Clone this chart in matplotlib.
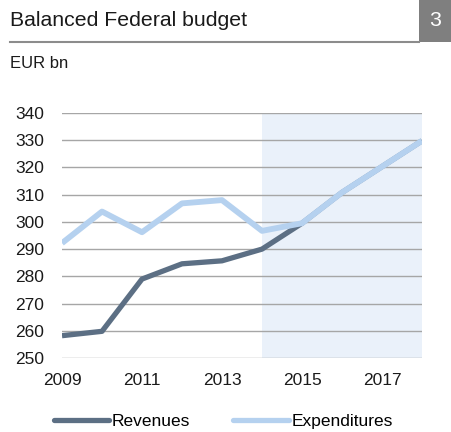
import matplotlib
matplotlib.use('Agg')
from matplotlib import pyplot as plt
from matplotlib.patches import Rectangle
from matplotlib.lines import Line2D

years = [2009, 2010, 2011, 2012, 2013, 2014, 2015, 2016, 2017, 2018]
revenues = [258.2, 259.8, 279.0, 284.6, 285.7, 290.0, 299.5, 310.8, 320.3, 329.8]
expenditures = [292.2, 303.8, 296.2, 306.8, 308.0, 296.7, 299.5, 310.8, 320.3, 329.8]
forecast_start = 2014
yticks = list(range(250, 341, 10))
xticks = [2009, 2011, 2013, 2015, 2017]

title = 'Balanced Federal budget'
unit = 'EUR bn'
chart_no = '3'

c_rev = '#5c6f84'
c_exp = '#b5d1ef'

plt.rcParams['font.family'] = ['Liberation Sans', 'DejaVu Sans']

fig = plt.figure(figsize=(4.51, 4.32), dpi=100)

# header
fig.text(10 / 451, 1 - 21 / 432, title, fontsize=15.3, color='#1a1a1a', va='center', ha='left')
fig.add_artist(Line2D([10 / 451, 419 / 451], [1 - 42 / 432] * 2, color='#8c8c8c', lw=1.5))
fig.add_artist(Rectangle((419 / 451, 1 - 42 / 432), 32 / 451, 42 / 432,
                         transform=fig.transFigure, color='#7f7f7f', lw=0))
fig.text(435 / 451, 1 - 21 / 432, chart_no, fontsize=15.3, color='white', va='center', ha='center')
fig.text(10 / 451, 1 - 64 / 432, unit, fontsize=12, color='#1a1a1a', va='center', ha='left')

ax = fig.add_axes([62 / 451, 1 - 358 / 432, 360 / 451, 245 / 432])
ax.axvspan(forecast_start, years[-1], color='#eaf1fa', lw=0, zorder=0)
for v in yticks:
    ax.axhline(v, color='#a6a6a6', lw=1, zorder=1)
ax.plot(years, revenues, color=c_rev, lw=3.8, zorder=2, solid_capstyle='butt')
ax.plot(years, expenditures, color=c_exp, lw=4.2, zorder=3, solid_capstyle='butt')

ax.set_xlim(years[0], years[-1])
ax.set_ylim(yticks[0], yticks[-1])
ax.set_yticks(yticks)
ax.set_xticks(xticks)
ax.tick_params(length=0, labelsize=12.5, colors='#1a1a1a')
ax.tick_params(axis='y', pad=13)
ax.tick_params(axis='x', pad=11)
for s in ax.spines.values():
    s.set_visible(False)

handles = [Line2D([], [], color=c_rev, lw=3.8, solid_capstyle='round'),
           Line2D([], [], color=c_exp, lw=3.8, solid_capstyle='round')]
fig.legend(handles, ['Revenues', 'Expenditures'], loc='center', ncol=2,
           bbox_to_anchor=(0.495, 1 - 421 / 432), frameon=False, fontsize=12.5,
           handlelength=3.2, handletextpad=0.15, columnspacing=2.5,
           borderpad=0, borderaxespad=0)

fig.savefig('out.png', dpi=100)
